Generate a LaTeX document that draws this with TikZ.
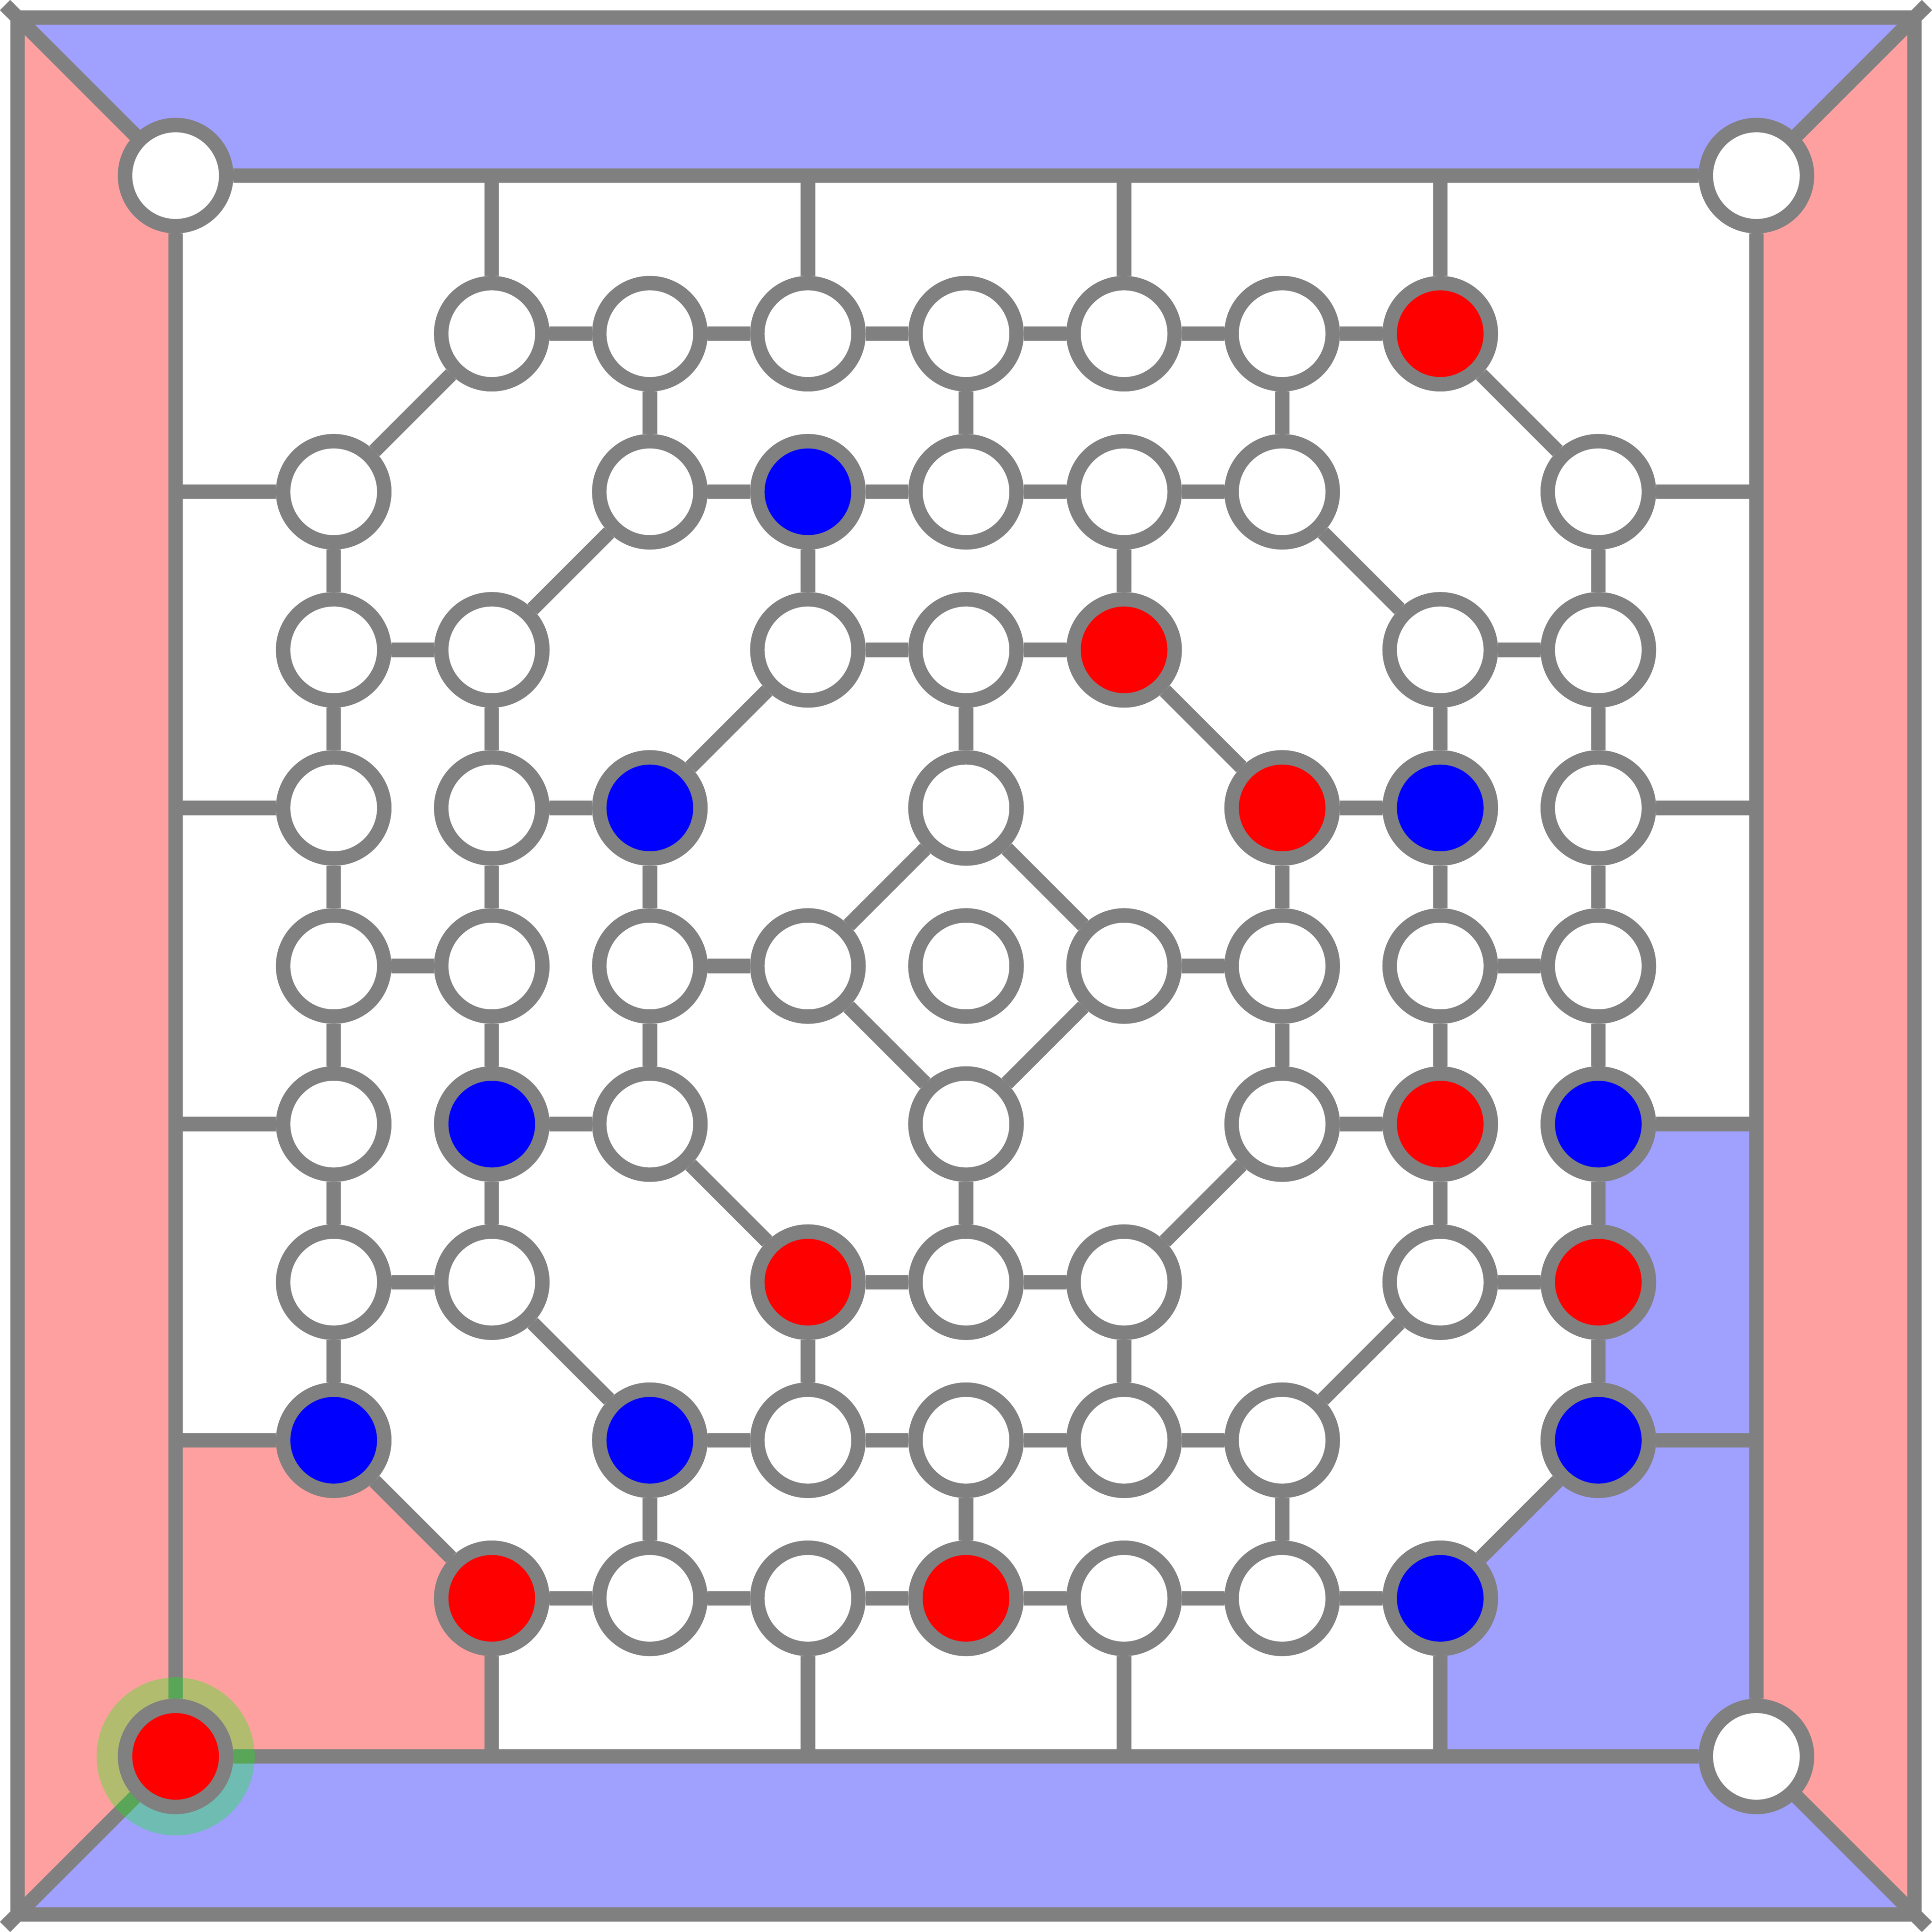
\documentclass[tikz,border=0pt]{standalone}
\definecolor{edgegray}{RGB}{128,128,128}
\definecolor{regblue}{RGB}{160,160,255}
\definecolor{regred}{RGB}{255,160,160}
\pgfdeclarelayer{back}
\pgfdeclarelayer{edgelayer}
\pgfdeclarelayer{glow}
\pgfsetlayers{back,edgelayer,glow,main}
\begin{document}
\begin{tikzpicture}[
  edge/.style={draw=edgegray, line width=2.6pt},
  spot/.style={circle, draw=edgegray, line width=2.6pt, minimum size=0.64cm, inner sep=0pt, fill=#1},
  spot/.default=white
]
\useasboundingbox (-1.111,1.111) rectangle (11.111,-11.111);

% ---------- nodes ----------
\foreach \r/\c/\col in {
  0/0/white, 0/10/white,
  1/2/white, 1/3/white, 1/4/white, 1/5/white, 1/6/white, 1/7/white, 1/8/red,
  2/1/white, 2/3/white, 2/4/blue, 2/5/white, 2/6/white, 2/7/white, 2/9/white,
  3/1/white, 3/2/white, 3/4/white, 3/5/white, 3/6/red, 3/8/white, 3/9/white,
  4/1/white, 4/2/white, 4/3/blue, 4/5/white, 4/7/red, 4/8/blue, 4/9/white,
  5/1/white, 5/2/white, 5/3/white, 5/4/white, 5/5/white, 5/6/white, 5/7/white, 5/8/white, 5/9/white,
  6/1/white, 6/2/blue, 6/3/white, 6/5/white, 6/7/white, 6/8/red, 6/9/blue,
  7/1/white, 7/2/white, 7/4/red, 7/5/white, 7/6/white, 7/8/white, 7/9/red,
  8/1/blue, 8/3/blue, 8/4/white, 8/5/white, 8/6/white, 8/7/white, 8/9/blue,
  9/2/red, 9/3/white, 9/4/white, 9/5/red, 9/6/white, 9/7/white, 9/8/blue,
  10/0/red, 10/10/white}
  \node[spot=\col] (n-\r-\c) at (\c,-\r) {};

% ---------- named free ends ----------
\coordinate (oc-tl) at (-1,1);
\coordinate (oc-tr) at (11,1);
\coordinate (oc-br) at (11,-11);
\coordinate (oc-bl) at (-1,-11);
\coordinate (tip-tl) at (-1.079,1.079);
\coordinate (tip-tr) at (11.079,1.079);
\coordinate (tip-br) at (11.079,-11.079);
\coordinate (tip-bl) at (-1.079,-11.079);
\foreach \k in {2,4,6,8} {
  \coordinate (L-\k) at (0,-\k);
  \coordinate (R-\k) at (10,-\k);
  \coordinate (T-\k) at (\k,0);
  \coordinate (B-\k) at (\k,-10);
}

% ---------- coloured regions ----------
\begin{pgfonlayer}{back}
  \fill[regblue] (oc-tl) -- (oc-tr) -- (n-0-10.center) -- (n-0-0.center) -- cycle;
  \fill[regblue] (oc-bl) -- (oc-br) -- (n-10-10.center) -- (n-10-0.center) -- cycle;
  \fill[regred] (oc-tl) -- (n-0-0.center) -- (n-10-0.center) -- (oc-bl) -- cycle;
  \fill[regred] (oc-tr) -- (n-0-10.center) -- (n-10-10.center) -- (oc-br) -- cycle;
  \fill[regred] (L-8) -- (n-8-1.center) -- (n-9-2.center) -- (B-2) -- (n-10-0.center) -- cycle;
  \fill[regblue] (B-8) -- (n-9-8.center) -- (n-8-9.center) -- (n-6-9.center) -- (R-6) -- (n-10-10.center) -- cycle;
\end{pgfonlayer}

% ---------- connectors ----------
\begin{pgfonlayer}{edgelayer}
  % outer frame and corner diagonals
  \draw[edge] (oc-tl) -- (oc-tr) -- (oc-br) -- (oc-bl) -- cycle;
  \draw[edge] (n-0-0.center) -- (tip-tl);
  \draw[edge] (n-0-10.center) -- (tip-tr);
  \draw[edge] (n-10-10.center) -- (tip-br);
  \draw[edge] (n-10-0.center) -- (tip-bl);
  % inner frame
  \draw[edge] (n-0-0) -- (n-0-10);
  \draw[edge] (n-0-10) -- (n-10-10);
  \draw[edge] (n-10-10) -- (n-10-0);
  \draw[edge] (n-10-0) -- (n-0-0);
  % spokes to the frame
  \draw[edge] (n-2-1) -- (L-2);
  \draw[edge] (n-4-1) -- (L-4);
  \draw[edge] (n-6-1) -- (L-6);
  \draw[edge] (n-8-1) -- (L-8);
  \draw[edge] (n-2-9) -- (R-2);
  \draw[edge] (n-4-9) -- (R-4);
  \draw[edge] (n-6-9) -- (R-6);
  \draw[edge] (n-8-9) -- (R-8);
  \draw[edge] (n-1-2) -- (T-2);
  \draw[edge] (n-1-4) -- (T-4);
  \draw[edge] (n-1-6) -- (T-6);
  \draw[edge] (n-1-8) -- (T-8);
  \draw[edge] (n-9-2) -- (B-2);
  \draw[edge] (n-9-4) -- (B-4);
  \draw[edge] (n-9-6) -- (B-6);
  \draw[edge] (n-9-8) -- (B-8);
  % horizontal connectors
  \foreach \r/\a/\b in {
    1/2/3, 1/3/4, 1/4/5, 1/5/6, 1/6/7, 1/7/8,
    2/3/4, 2/4/5, 2/5/6, 2/6/7,
    3/1/2, 3/4/5, 3/5/6, 3/8/9,
    4/2/3, 4/7/8,
    5/1/2, 5/3/4, 5/6/7, 5/8/9,
    6/2/3, 6/7/8,
    7/1/2, 7/4/5, 7/5/6, 7/8/9,
    8/3/4, 8/4/5, 8/5/6, 8/6/7,
    9/2/3, 9/3/4, 9/4/5, 9/5/6, 9/6/7, 9/7/8}
    \draw[edge] (n-\r-\a) -- (n-\r-\b);
  % vertical connectors
  \foreach \c/\a/\b in {
    1/2/3, 1/3/4, 1/4/5, 1/5/6, 1/6/7, 1/7/8,
    2/3/4, 2/4/5, 2/5/6, 2/6/7,
    3/1/2, 3/4/5, 3/5/6, 3/8/9,
    4/2/3, 4/7/8,
    5/1/2, 5/3/4, 5/6/7, 5/8/9,
    6/2/3, 6/7/8,
    7/1/2, 7/4/5, 7/5/6, 7/8/9,
    8/3/4, 8/4/5, 8/5/6, 8/6/7,
    9/2/3, 9/3/4, 9/4/5, 9/5/6, 9/6/7, 9/7/8}
    \draw[edge] (n-\a-\c) -- (n-\b-\c);
  % diagonal connectors
  \foreach \p/\q in {
    1-2/2-1, 1-8/2-9, 2-3/3-2, 2-7/3-8, 3-4/4-3, 3-6/4-7,
    4-5/5-4, 4-5/5-6, 5-4/6-5, 5-6/6-5,
    6-3/7-4, 6-7/7-6, 7-2/8-3, 7-8/8-7, 8-1/9-2, 8-9/9-8}
    \draw[edge] (n-\p) -- (n-\q);
\end{pgfonlayer}

% ---------- highlight ----------
\begin{pgfonlayer}{glow}
  \fill[green, opacity=0.3] (n-10-0.center) circle (0.5);
\end{pgfonlayer}
\end{tikzpicture}
\end{document}
